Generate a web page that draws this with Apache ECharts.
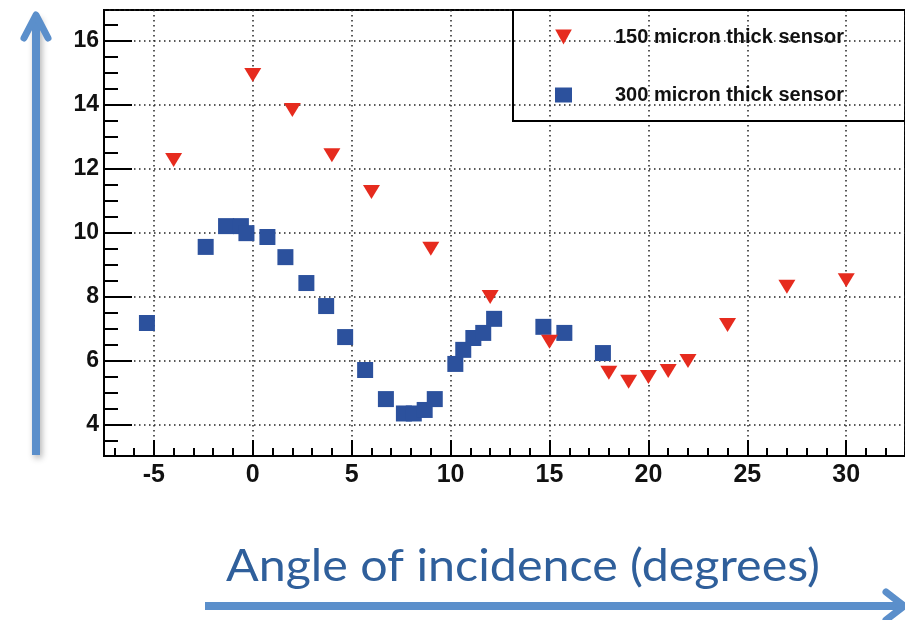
<!DOCTYPE html>
<html>
<head>
    <meta charset="utf-8">
    <title>ECharts</title>
    <style>
        html, body { margin: 0; padding: 0; background: #fff; }
        #main { width: 905px; height: 620px; }
    </style>
</head>
<body>
<div id="main"></div>
<script src="https://cdn.jsdelivr.net/npm/echarts@6/dist/echarts.min.js"></script>
<script type="text/javascript">
    // 150 micron sensor (red down triangles): [angle, value]
    var thin150 = [
        [-4, 12.27], [0, 14.93], [2, 13.83], [4, 12.42], [6, 11.27], [9, 9.49],
        [12, 7.98], [15, 6.58], [18, 5.61], [19, 5.33], [20, 5.48], [21, 5.67],
        [22, 5.98], [24, 7.11], [27, 8.30], [30, 8.51]
    ];
    // 300 micron sensor (blue squares)
    var thick300 = [
        [-5.35, 7.17], [-2.38, 9.55], [-1.35, 10.2], [-0.6, 10.2], [-0.32, 9.98],
        [0.74, 9.86], [1.65, 9.23], [2.71, 8.42], [3.71, 7.70], [4.67, 6.73],
        [5.68, 5.70], [6.73, 4.79], [7.64, 4.34], [8.14, 4.34], [8.69, 4.45],
        [9.2, 4.79], [10.24, 5.89], [10.64, 6.33], [11.15, 6.70], [11.65, 6.86],
        [12.2, 7.30], [14.69, 7.05], [15.75, 6.86], [17.7, 6.23]
    ];
    var seriesNames = ['150 micron thick sensor', '300 micron thick sensor'];
    var xRange = [-7.52, 32.97];
    var yRange = [3.01, 16.96];

    // minor tick positions (every 1 deg on x, every 0.5 on y), skipping the major ones
    var xMinor = [];
    for (var i = -7; i <= 32; i++) { if (i % 5 !== 0) xMinor.push(i); }
    var yMinor = [];
    for (var v = 3.5; v <= 16.9; v += 0.5) { if (v % 2 !== 0) yMinor.push(v); }

    var blue = '#5b8fcb';
    var dots = { color: '#222', width: 1.5, type: [1.5, 3.5] };

    var chart = echarts.init(document.getElementById('main'));
    chart.setOption({
        animation: false,
        backgroundColor: '#fff',
        grid: {
            left: 104, top: 10, right: -3, bottom: 164,
            show: true, borderColor: '#000', borderWidth: 2
        },
        legend: {
            orient: 'vertical',
            left: 513, top: 10,
            padding: [17, 80, 16, 42],
            itemGap: 38,
            itemWidth: 17, itemHeight: 15,
            borderColor: '#000', borderWidth: 2,
            data: seriesNames,
            formatter: function (name) { return '{a|' + name + '}'; },
            textStyle: {
                rich: {
                    a: {
                        fontFamily: 'Liberation Sans', fontWeight: 'bold', fontSize: 20,
                        color: '#111', lineHeight: 20, padding: [0, 0, 0, 38]
                    }
                }
            }
        },
        xAxis: [{
            type: 'value', min: xRange[0], max: xRange[1], splitNumber: 8,
            axisLine: { onZero: false, lineStyle: { color: '#000', width: 2 } },
            axisTick: { inside: true, length: 16, lineStyle: { color: '#000', width: 2 } },
            axisLabel: {
                showMinLabel: false, showMaxLabel: false, margin: 7,
                fontFamily: 'Liberation Sans', fontWeight: 'bold', fontSize: 25, color: '#111'
            },
            splitLine: { show: true, lineStyle: dots }
        }, {
            type: 'value', min: xRange[0], max: xRange[1], position: 'bottom',
            axisLine: { show: false, onZero: false },
            axisLabel: { show: false },
            splitLine: { show: false },
            axisTick: { inside: true, length: 8, customValues: xMinor, lineStyle: { color: '#000', width: 2 } }
        }],
        yAxis: [{
            type: 'value', min: yRange[0], max: yRange[1], splitNumber: 7,
            axisLine: { onZero: false, lineStyle: { color: '#000', width: 2 } },
            axisTick: { inside: true, length: 28, lineStyle: { color: '#000', width: 2 } },
            axisLabel: {
                showMinLabel: false, showMaxLabel: false, margin: 5,
                fontFamily: 'Liberation Sans', fontWeight: 'bold', fontSize: 23, color: '#111'
            },
            splitLine: { show: true, lineStyle: dots }
        }, {
            type: 'value', min: yRange[0], max: yRange[1], position: 'left',
            axisLine: { show: false, onZero: false },
            axisLabel: { show: false },
            splitLine: { show: false },
            axisTick: { inside: true, length: 14, customValues: yMinor, lineStyle: { color: '#000', width: 2 } }
        }],
        series: [{
            name: seriesNames[0],
            type: 'scatter',
            data: thin150,
            symbol: 'path://M0,0 L10,0 L5,9 Z',
            symbolSize: [17, 14],
            itemStyle: { color: '#e62b1e', opacity: 1 },
            z: 3
        }, {
            name: seriesNames[1],
            type: 'scatter',
            data: thick300,
            symbol: 'rect',
            symbolSize: 16,
            itemStyle: { color: '#2c519d', opacity: 1 },
            z: 2
        }],
        graphic: [{
            type: 'polyline',
            shape: { points: [[36, 455], [36, 16]] },
            style: { stroke: blue, lineWidth: 8, shadowBlur: 6, shadowColor: 'rgba(0,0,0,0.3)', shadowOffsetX: 2, shadowOffsetY: 3 }
        }, {
            type: 'polyline',
            shape: { points: [[24, 38], [36, 15], [48, 38]] },
            style: { stroke: blue, lineWidth: 7, lineCap: 'round', lineJoin: 'round', fill: null }
        }, {
            type: 'polyline',
            shape: { points: [[205, 606], [902, 606]] },
            style: { stroke: blue, lineWidth: 8 }
        }, {
            type: 'polyline',
            shape: { points: [[886, 592], [904, 606], [886, 620]] },
            style: { stroke: blue, lineWidth: 7, lineCap: 'round', lineJoin: 'round', fill: null }
        }, {
            type: 'text',
            x: 226, y: 589,
            scaleX: 1.1,
            style: {
                text: 'Angle of incidence (degrees)',
                font: '44px Lato',
                fill: '#2f5f9b',
                textAlign: 'left',
                textVerticalAlign: 'bottom'
            }
        }]
    });
</script>
</body>
</html>
